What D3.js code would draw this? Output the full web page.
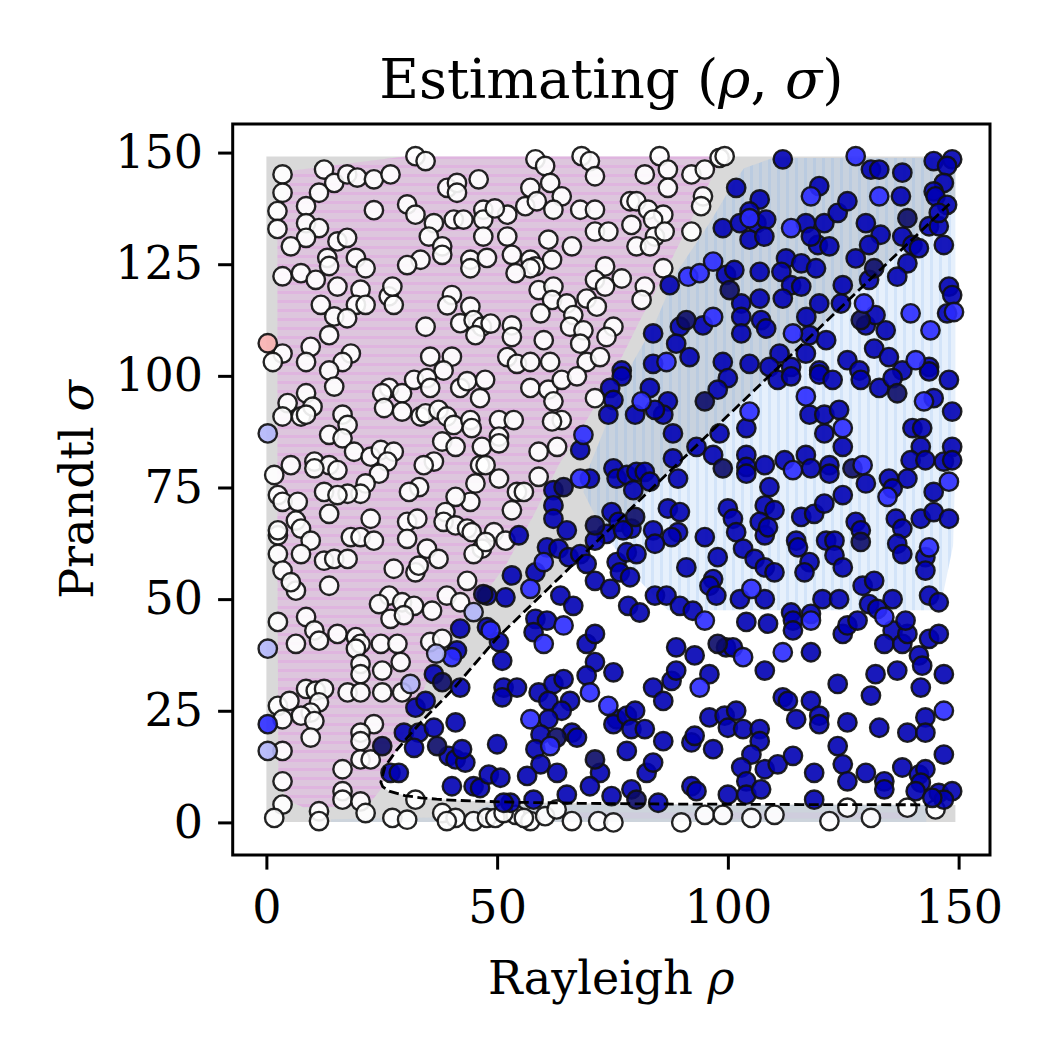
<!DOCTYPE html>
<html>
<head>
<meta charset="utf-8">
<script src="https://cdn.jsdelivr.net/npm/d3@7"></script>
<style>
  body { margin: 0; background: #fff; }
  svg { display: block; }
  text { font-family: "DejaVu Serif", serif; fill: #000; }
</style>
</head>
<body>
<script>
// points, [rho, sigma], grouped by marker colour
const whitePts = [
  [32.3,149.2],[34.5,148.1],[3.5,145.1],[12.5,146.2],[14.7,143.2],[17.5,145.1],[19.7,144.4],[23.3,144],[26.9,145.1],[3.5,141],
  [11.4,141],[2.4,136.9],[8.6,138],[23.3,137.1],[2.4,132.9],[8.6,134.2],[11.4,133.1],[8.6,130.9],[5.3,129],[15.4,130.1],
  [17.5,130.9],[13.2,126.4],[13.6,124.6],[19.4,126.4],[21.5,124.1],[3.5,122.3],[7.5,123],[10.7,121.5],[15.4,120],[20.4,119.3],
  [26.5,117.8],[27.6,115.9],[27.3,120],[11.8,115.9],[19.4,115.9],[21.5,115.9],[14.7,113.3],[17.5,112.9],[13.6,109.1],[3.5,105],
  [1.4,103.1],[9.6,106.5],[8.6,103.1],[18.3,105],[16.5,103.1],[13.6,101.2],[30.5,138.4],[32.3,136.1],[36.3,134.2],[35.2,131.2],
  [33.4,126],[30.5,124.8],[38.1,129],[38.1,127.1],[39.2,142.1],[41.3,143.2],[41.3,141],[46,144],[40.6,135],[42.7,135],
  [47,137.2],[47,135],[47,131.2],[44.2,126],[44.2,124.1],[47.8,126.4],[34.5,111],[40.2,118.1],[39.2,115.8],[44.2,115.5],
  [42,111.8],[44.9,112.5],[46.7,111],[45.3,109.1],[35.5,104.3],[40.2,104.3],[38.4,101.2],
  [58.3,148.5],[60.4,147],[68.3,149.2],[70.1,148.1],[71.2,144.7],[85.2,149.2],[87,146.2],[87,142.1],[82,145.1],[92.1,145.1],
  [95,146.2],[98.2,148.8],[99.3,149.2],[94.6,140.2],[94.2,138],[57.2,142.1],[61.5,143.2],[64,140.2],[56.1,138],[58.6,139.1],
  [62.2,137.2],[52.2,136.1],[49.5,137.5],[68,137.2],[71.2,137.2],[78.8,139.1],[80.2,139.1],[82.7,137.2],[86,136.1],[83.8,135],
  [79.1,133.8],[71.2,132.3],[74.1,132.3],[84.2,131.2],[86.3,132.3],[80.2,129],[83.1,129],[92.1,132.3],[52.2,131.2],[61.1,130.5],
  [66.2,129],[53.2,127.1],[57.2,126],[58.3,124.5],[61.9,126],[57.2,124.1],[54,123],[73.4,124.5],[77,121.8],[71.2,121.5],
  [73.4,120],[82,120],[81.3,117],[86,124.1],[59,119.2],[62.2,120],[61.9,117],[65.1,116.2],[66.5,113.6],[69.4,117.3],
  [71.6,115.5],[59.4,114],[48.6,111.7],[53.2,111.3],[53.2,108.7],[65.8,111],[68.7,110.2],[68,107.2],[75.2,111],[73.7,108.7],
  [60.1,108],[52.2,104.2],[54.3,102.7],[57.2,103.1],[61.5,103.1],[69.4,103.1],[72.3,104.2],
  [14.7,97.6],[8.6,96.1],[4.6,93.9],[3.5,90.9],[7.5,90.9],[10,93.1],[8.6,91.3],[16.5,91.3],[17.6,89],[13.6,86.8],
  [16.5,86],[19,83],[22.6,81.9],[24.8,83.4],[27.6,83],[26.2,80.8],[24.4,78.1],[21.5,75.9],[20.4,73.6],[5.3,80],
  [1.7,77.8],[10.4,80.8],[13.6,80],[15.4,78.9],[10.4,79.3],[12.5,74],[17.6,73.6],[15.4,73.3],[2.5,73.3],[3.5,71.8],
  [6.8,71.8],[6.4,67.6],[7.5,65.8],[2.5,64.3],[2.5,65.4],[9.6,63.1],[13.6,69.1],[22.6,68],[18.3,63.9],[20.4,63.9],
  [23.3,63.1],[2.5,60.1],[7.5,60.1],[12.5,58.6],[14.7,59],[17.6,59],[3.5,56.4],[6.4,51.9],[5.3,53.8],[13.6,53],
  [26.6,97.3],[25.1,96.1],[29.4,96.1],[25.5,92.8],[29.4,92],[32,99.1],[34.8,99.5],[35.5,97.3],[33.4,90.9],[34.5,91.6],
  [37.3,92.4],[39.1,90.9],[40.6,89],[44.2,90.1],[44.5,88.3],[46.3,95],[42,97.3],[43.5,98.8],[47.4,99.1],[38.1,85.3],
  [41,84.1],[36.3,80.8],[34.1,80],[46.7,84.1],[33.1,75.1],[30.9,74],[46.3,80],[45.3,75.9],[44.2,71.8],[41,72.9],
  [38.8,69.5],[38.4,67.3],[30.5,67.3],[32.7,68],[30.5,63.5],[34.8,61.3],[37.3,59],[32.3,56],[27.6,56.8],[33,57.5],
  [41,66.5],[43.5,65.8],[44.5,65],[46.7,61.3],[44.9,60.1],[43.5,54.1],[39.1,50.8],[42,49.3],[26.6,50.8],[24.4,48.9],
  [29.4,49.3],[32,48.5],[35.9,47.4],
  [57.2,97.3],[61.1,96.9],[64,99.1],[67.3,99.9],[62.2,94.3],[64,90.1],[61.9,89.8],[71.2,95],[50.4,90.1],[53.6,90.1],
  [50.4,86.4],[50.4,84.9],[59,83],[63,84.1],[47.5,80],[50.4,77],[54.3,74],[55.8,74],[53.2,69.9],[59,77.4],
  [49.3,65],[51.8,63.1],[47.5,62.8],
  [2.5,44.9],[8.6,46],[6.4,40],[10.4,43],[11.4,40.7],[15.4,42.2],[19.4,41.5],[20.4,40],[19.4,38.9],[24.8,40],
  [28.4,40],[29.1,35.9],[25.1,34],[20.4,35.5],[20.4,33.2],[26.9,45.6],[29.8,46.4],[35.5,40.4],[38.1,41.1],[3.5,16],
  [2.5,26.1],[5,27.2],[8.6,29.9],[10.7,29.5],[12.5,29.9],[11.4,26.9],[9.6,24.6],[7.5,23.9],[3.5,23.1],[10.4,22.7],
  [9.6,19],[17.6,29.1],[20.4,29.1],[25.1,29.1],[29.4,29.1],[23.3,22],[20.4,20.1],[20.4,18.2],[20.4,14.1],[22.6,14.1],
  [16.5,11.9],[16.5,7],[16.5,5.1],[20.4,4.7],[21.5,2.1],[3.5,9.2],[3.5,4],[1.7,1],[11.4,2.5],[11.4,0.3],
  [27.3,1],[30.5,0.6],[32.3,5.1],[38.1,2.1],[41,1],[44.9,0.3],[47.8,1],[39.1,0.3],
  [49.6,1],[54,1.7],[57.2,0.3],[60.4,1.4],[62.9,2.9],[66.2,0.3],[71.9,0.3],[75.2,0],[89.9,0],[95,1.7],
  [98.9,1.7],[51.4,2.1],[55.8,1],
  [105.1,1],[110.1,1.7],[122,0.3],[125.9,3.3],[131,1],[138.9,3.3],[145,2.9]
];

const navyPts = [
  [101.8,142.1],[98.9,133.1],[87.4,120.3],[99.6,122.6],[101.4,123.7],[83.8,109.5],[89.6,111],[88.8,107.2],[94.6,111.3],[83.8,102.7],
  [91.7,104.2],[98.9,103.1],[77,101.2],
  [111.9,148.5],[131,146.2],[132.8,146.2],[137.8,145.5],[144.6,148.1],[148.6,148.5],[147.5,147],[119.8,142.5],[137.5,140.2],[146.8,143.2],
  [144.6,141.3],[145,140.2],[106.9,139.5],[104.7,136.8],[106.2,134.2],[108.3,135],[104.7,130.5],[107.9,131.2],[102.6,134.2],[116.9,134.2],
  [120.9,134.2],[123.8,136.5],[125.9,139.1],[119.5,129.3],[122,129],[118,131.2],[129.9,134.2],[133.1,131.6],[130.6,129.3],[137.8,131.2],
  [140,129.3],[141.4,128.6],[143.6,133.5],[145.7,133.5],[147.5,138.3],[145.7,136.5],[146.8,129.3],[127.7,126.3],[130.6,121.5],[138.9,125.2],
  [136.7,122.2],[112.6,126.3],[115.9,125.2],[119.1,124.1],[111.6,123.3],[113.7,120.3],[115.9,120],[106.9,123.3],[106.9,117.3],[111.9,117.3],
  [124.9,120.3],[119.8,116.2],[124.5,116.2],[102.9,116.2],[102.9,113.2],[107.2,112.5],[108.3,110.6],[102.9,109.5],[117,113.2],[117.7,109.1],
  [121.3,108],[129.9,111.3],[134.2,110.2],[132,113.6],[147.9,120],[148.6,118.1],[147.5,114],[131.7,106.1],[134.9,104.2],[143.6,102],
  [111.2,105],[116.9,105],[104.7,102.7],[109,102],[113.7,102],[125.9,103.5],[119.8,101.2],[128.5,101.2],[137.8,101.2],
  [54.7,64.3],[77,99.9],[74.5,97.3],[75.2,94.6],[74.1,91.3],[79.9,91.3],[83.1,97.3],[87,94.3],[86,91.3],[84.2,92.4],
  [88.1,87.1],[100,99.5],[97.8,96.9],[68,83.4],[98.2,87.1],[93.2,84.1],[96.8,82.3],[100,70.3],[101.1,68],[88.1,81.5],
  [89.2,77],[75.2,79.3],[75.9,77],[78.1,77.8],[80.2,78.5],[82,78.5],[79.5,74.4],[83.1,76.3],[62.2,74.4],[70.1,77],
  [62.2,71],[62.2,68],[65.1,65.4],[74.8,69.5],[76.3,67.3],[73.7,64.6],[71.2,63.1],[79.1,65.8],[77.3,65.4],[83.8,65.4],
  [87,70.3],[89.6,69.5],[89.2,65],[87.8,63.9],[84.2,62.4],[95,63.9],[60.8,61.6],[63.3,61.3],[65.5,59.4],[68,60.1],
  [69.4,57.9],[58.3,56],[53.2,55.3],[51.8,50.4],[47.8,50.8],[75.9,58.3],[78.1,60.5],[80.2,60.1],[76.6,56],[78.8,54.9],
  [71.2,54.1],[74.5,52.3],[91,57.1],[97.8,59.4],[96.8,54.5],[96,53],[97.5,50.8],[84.2,50.8],[86.7,50.8],[63.7,50.8],
  [66.5,48.5],[78.4,48.5],[80.9,47],[89.6,48.5],[92.4,47.4],
  [110.8,99.1],[113.7,99.9],[119.8,100.3],[122.7,99.1],[128.8,99.1],[132.8,97.3],[135.7,99.5],[143.6,101],[147.9,99.1],[144.6,95],
  [148.6,92],[117.7,91.3],[120.9,91.3],[124.1,92.4],[120.9,87.1],[124.9,84.1],[104,88.3],[140,88.3],[142.1,88.3],[141.8,84.1],
  [139.6,81.1],[142.8,81.1],[146.8,80.8],[148.6,84.1],[148.6,81.1],[138.9,77],[144.6,74],[134.9,77],[135.7,74.8],[129.9,75.9],
  [124.9,73.3],[104,82.3],[104,79.6],[104,78.1],[108,80],[112.3,81.1],[116.9,82.3],[118,79.3],[122,80],[122,78.1],
  [109,75.1],[108,71],[110.1,69.9],[106.9,67.3],[108,64.3],[108.7,66.1],[101.8,65],[103.3,61.3],[115.9,68.4],[118.7,69.1],
  [120.9,71.4],[127.7,67.3],[128.8,65.4],[114.8,63.1],[115.2,61.6],[117.7,58.3],[116.6,56],[121.3,63.1],[123.1,63.1],[123.1,59.8],
  [124.9,57.1],[136.4,68],[137.8,65.8],[136.7,62.4],[137.8,60.1],[141.8,68],[144.6,69.5],[147.9,68],[142.8,59.4],[142.8,56.4],
  [143.6,50.8],[145.7,49.3],[105.8,59],[108,57.1],[110.1,56],[108,50],[102.6,50],[120.5,50],[124.1,50],[129.2,53],
  [131.7,54.1],[135.7,50],[130.6,48.9],[132.4,47.8],[113.7,47],[118,46.7],
  [41.3,38.5],[42,43.4],[47.8,43.7],[36.3,33.2],[42,30.2],[32.3,25.7],[34.5,27.2],[29.8,20.1],[33,20.1],[36.3,21.2],
  [41,22.4],[32,16.7],[39.5,14.9],[41,14.1],[43.1,13.4],[42.4,16.4],[26.9,11.1],[28.7,11.1],[40.2,8.1],[44.9,8.1],[46.3,7.7],
  [58.3,45.6],[60.8,45.2],[57.9,42.6],[50.4,40.4],[51.1,36.2],[69.4,40],[71.2,42.2],[71.2,35.9],[69.4,32.9],[75.2,33.6],
  [51.4,30.2],[54.3,30.2],[51.1,28],[59,29.1],[62.2,31],[64.4,32.1],[61.1,27.2],[65.8,27.2],[64,25],[61.1,23.1],
  [59.4,19.7],[66.2,20.1],[67.3,19],[58.3,16.4],[59.4,13],[56.5,10.4],[63,11.1],[50,17.5],[48.2,10.7],[50.7,10],
  [65.1,6.2],[57.9,5.1],[52.9,4.4],[51.4,4.4],[75.9,23.1],[75.2,22],[78.1,23.9],[79.9,25],[79.1,20.9],[82,20.9],
  [86,18.2],[78.1,16],[72.3,11.1],[70.1,8.1],[74.8,5.9],[79.1,7.4],[82.4,11.1],[83.8,13.4],[84.9,4.4],[83.8,30.2],
  [86,27.2],[87.8,31.7],[88.8,34],[88.8,39.2],[92.8,37.4],[96,33.2],[99.6,39.2],[96,23.5],[99.3,23.9],[100,21.2],
  [92.1,17.9],[96.8,16.4],[92.8,19.4],[92.1,8.1],[93.2,7],[100,6.2],
  [104,44.9],[108.7,44.5],[114.1,45.2],[114.1,43],[124.9,42.2],[125.9,44.1],[128.1,45.2],[135.7,43],[133.9,40],[137.8,40],
  [138.9,42.2],[138.5,45.2],[143.6,41.1],[145.7,42.2],[141.4,37.4],[142.1,35.1],[146.8,33.2],[141.8,30.2],[101.1,39.2],[118,38.1],
  [108,34],[123.8,31],[132,33.2],[136.7,34],[131,28.4],[111.9,28],[113,27.2],[118,27.2],[114.8,23.1],[119.8,23.9],
  [119.8,22],[125.9,22.4],[132.8,21.2],[138.9,20.1],[142.8,23.5],[142.8,20.1],[101.8,25],[103.3,20.9],[106.9,20.9],[106.9,18.2],
  [123.8,17.1],[124.9,13],[125.9,9.2],[105.1,15.2],[102.9,12.3],[108,11.9],[110.8,13],[114.1,14.9],[118.7,11.1],[129.9,11.1],
  [133.9,9.2],[133.9,7.4],[137.8,12.3],[141.4,10.7],[142.8,11.9],[141.8,8.9],[140.7,7],[146.8,15.2],[145.7,6.6],[148.6,7],
  [146.8,5.1],[144.3,5.5],[104,9.2],[104,6.2],[107.2,7.4],[118.7,5.1]
];

const darkPts = [
  [100.4,119.2],[91,112.5],[138.9,135.3],[131.7,124.1],[128.8,112.5],[95,94.3],[98.9,79.3],[64.4,75.1],[71.2,66.5],[79.9,68.4],
  [136.7,96.1],[127,79.3],[128.8,62.8],[47,51.1],[25.1,17.1],[38.1,31.4],[37,17.1],[62.9,19],[71.2,14.1],[80.2,5.1],[97.8,40]
];

const brightPts = [
  [91.4,122.2],[93.9,123],[96.8,125.6],[96.8,113.2],[86.7,103.1],
  [127.7,149.2],[118,140.2],[132.8,140.2],[104.7,135.3],[113.7,133.1],[129.5,116.2],[139.6,114],[143.9,110.2],[149,114.3],[114.1,109.5],[140.7,103.5],
  [81.3,94.3],[68.7,86.8],[68,77],[60.1,58.3],[57.2,52.3],
  [142.5,94.3],[116.9,95.4],[124.9,88.3],[104.7,92],[147.9,76.3],[129.2,80],[134.6,72.9],[143.6,61.6],[105.1,52.3],[114.1,78.9],
  [0.3,22],[40.2,37],
  [64.4,44.1],[60.1,40],[48.6,43],[70.1,29.1],[57.2,23.1],[61.5,17.1],[74.1,26.1],[93.9,30.2],[95,45.2],
  [118,45.2],[133.9,46],[103.3,37],[111.9,38.1],[146.8,25]
];

const lightPts = [[0.3,87.1],[0.3,38.9],[0.3,16],[31.2,31],[36.8,37.8],[44.9,47.1]];
const pinkPts = [[0.3,107.3]];

// dashed boundary
const boundaryRho =   [150, 148, 140, 130, 120, 110, 100, 90, 80, 70, 60, 50, 40.6, 34, 30.7, 28.1, 25.7, 24.8, 25.2, 26.6, 30, 33.5, 36.9, 40, 45.7, 54.9, 67.7, 84, 116, 143, 150];
const boundarySigma = [140.4, 138.5, 130.6, 120.8, 110.9, 101, 91.1, 81.2, 71.3, 61.3, 51.3, 41.3, 30, 23, 19.2, 16, 12.5, 9, 8, 7, 6, 5.5, 5.2, 5, 4.75, 4.5, 4.28, 4.13, 4, 3.94, 3.92];

// shaded regions
const grayBox = [[0,0.1],[149.3,0.1],[149.3,149.1],[0,149.1]];
const pinkRegion = [[2.4,133],[5.7,146],[30,149.1],[97,149.1],[98,147.5],[92.8,136.5],[86.3,123],[80.6,111.7],[75.7,101.5],[70.1,91.3],
  [63.3,80],[57.9,68.8],[51.8,57.5],[46.4,50],[42,45],[37.7,37.4],[32.3,26.1],[27.6,14.9],[24.8,7.4],[21.9,3.6],
  [8,3.4],[4.5,5],[2.6,10],[2.4,60]];
const blueRegion = [[101.1,143],[103.5,146.5],[109.8,148.8],[149.3,148.8],[149.3,80],[148.8,62],[146.4,50],[144,47.5],[87,47.5],[80,55],
  [73,65],[68.7,74],[70.1,80],[74.5,91.3],[79.1,102.5],[84.2,111.7],[88.8,123],[96,134.2]];
const blueStrip = [[14,0.1],[143,0.1],[143,3.9],[48,3.9],[42,1.2],[14,0.7]];
const pinkStrip = [[46,0.9],[140,0.9],[140,2.2],[46,2.2]];

const xTicks = [0, 50, 100, 150];
const yTicks = [0, 25, 50, 75, 100, 125, 150];

const width = 1050;
const height = 1050;
const plotLeft = 232.7, plotRight = 990, plotTop = 124, plotBottom = 855;

const x = d3.scaleLinear().domain([-7.3, 156.8]).range([plotLeft, plotRight]);
const y = d3.scaleLinear().domain([-7.3, 156.4]).range([plotBottom, plotTop]);

const svg = d3.select("body").append("svg")
  .attr("width", width)
  .attr("height", height);

const defs = svg.append("defs");
defs.append("clipPath").attr("id", "plotclip")
  .append("rect").attr("x", plotLeft).attr("y", plotTop)
  .attr("width", plotRight - plotLeft).attr("height", plotBottom - plotTop);

const pinkHatch = defs.append("pattern").attr("id", "pinkhatch")
  .attr("patternUnits", "userSpaceOnUse").attr("width", 9).attr("height", 9);
pinkHatch.append("rect").attr("x", 0).attr("y", 3).attr("width", 9).attr("height", 3)
  .attr("fill", "rgba(232,120,232,0.22)");

const blueHatch = defs.append("pattern").attr("id", "bluehatch")
  .attr("patternUnits", "userSpaceOnUse").attr("width", 9).attr("height", 9);
blueHatch.append("rect").attr("x", 3).attr("y", 0).attr("width", 3).attr("height", 9)
  .attr("fill", "rgba(110,165,235,0.16)");

const area = svg.append("g").attr("clip-path", "url(#plotclip)");
const poly = d3.line().x(d => x(d[0])).y(d => y(d[1]));
const closed = pts => poly(pts) + "Z";

area.append("path").attr("d", closed(grayBox)).attr("fill", "#d9d9d9");

const boundary = boundaryRho.map((r, i) => [r, boundarySigma[i]]);
area.append("path").attr("d", closed(boundary)).attr("fill", "#fff");

area.append("path").attr("d", closed(blueStrip)).attr("fill", "rgba(136,184,241,0.14)");
area.append("path").attr("d", closed(pinkStrip)).attr("fill", "rgba(237,133,237,0.08)");

area.append("path").attr("d", closed(pinkRegion)).attr("fill", "rgba(237,133,237,0.22)");
area.append("path").attr("d", closed(pinkRegion)).attr("fill", "url(#pinkhatch)");

area.append("path").attr("d", closed(blueRegion)).attr("fill", "rgba(136,184,241,0.21)");
area.append("path").attr("d", closed(blueRegion)).attr("fill", "url(#bluehatch)");

// markers
const groups = [
  { pts: whitePts, fill: "#ffffff" },
  { pts: navyPts, fill: "#0000b4" },
  { pts: darkPts, fill: "#0b0b68" },
  { pts: brightPts, fill: "#2b2bff" },
  { pts: lightPts, fill: "#b2b6fa" },
  { pts: pinkPts, fill: "#f8b0b0" }
];
groups.forEach(gr => {
  area.append("g").selectAll("circle").data(gr.pts).join("circle")
    .attr("cx", d => x(d[0]))
    .attr("cy", d => y(d[1]))
    .attr("r", 9.2)
    .attr("fill", gr.fill)
    .attr("fill-opacity", 0.9)
    .attr("stroke", "#111")
    .attr("stroke-opacity", 0.92)
    .attr("stroke-width", 2.4);
});

// dashed theoretical boundary on top of the points
area.append("path")
  .attr("d", poly(boundary.slice(1, boundary.length - 1)))
  .attr("fill", "none")
  .attr("stroke", "#000")
  .attr("stroke-width", 2.8)
  .attr("stroke-dasharray", "10,4.5");

// frame
svg.append("rect")
  .attr("x", plotLeft).attr("y", plotTop)
  .attr("width", plotRight - plotLeft).attr("height", plotBottom - plotTop)
  .attr("fill", "none").attr("stroke", "#000").attr("stroke-width", 3);

const xAxis = svg.append("g").attr("transform", `translate(0,${plotBottom})`)
  .call(d3.axisBottom(x).tickValues(xTicks).tickSize(14.6).tickSizeOuter(0).tickPadding(21));
const yAxis = svg.append("g").attr("transform", `translate(${plotLeft},0)`)
  .call(d3.axisLeft(y).tickValues(yTicks).tickSize(14.6).tickSizeOuter(0).tickPadding(15));

[xAxis, yAxis].forEach(a => {
  a.select(".domain").remove();
  a.selectAll(".tick line").attr("stroke", "#000").attr("stroke-width", 3);
  a.selectAll(".tick text")
    .attr("fill", "#000")
    .style("font-family", "'DejaVu Serif', serif")
    .style("font-size", "46px");
});

// title and labels
const title = svg.append("text")
  .attr("x", (plotLeft + plotRight) / 2).attr("y", 98)
  .attr("text-anchor", "middle")
  .style("font-size", "54.5px");
title.append("tspan").text("Estimating (");
title.append("tspan").style("font-style", "italic").text("ρ");
title.append("tspan").text(", ");
title.append("tspan").style("font-style", "italic").text("σ");
title.append("tspan").text(")");

const xl = svg.append("text")
  .attr("x", (plotLeft + plotRight) / 2).attr("y", 994)
  .attr("text-anchor", "middle")
  .style("font-size", "46px");
xl.append("tspan").text("Rayleigh ");
xl.append("tspan").style("font-style", "italic").text("ρ");

const yl = svg.append("text")
  .attr("transform", `translate(93,${(plotTop + plotBottom) / 2}) rotate(-90)`)
  .attr("text-anchor", "middle")
  .style("font-size", "46px");
yl.append("tspan").text("Prandtl ");
yl.append("tspan").style("font-style", "italic").text("σ");
</script>
</body>
</html>
